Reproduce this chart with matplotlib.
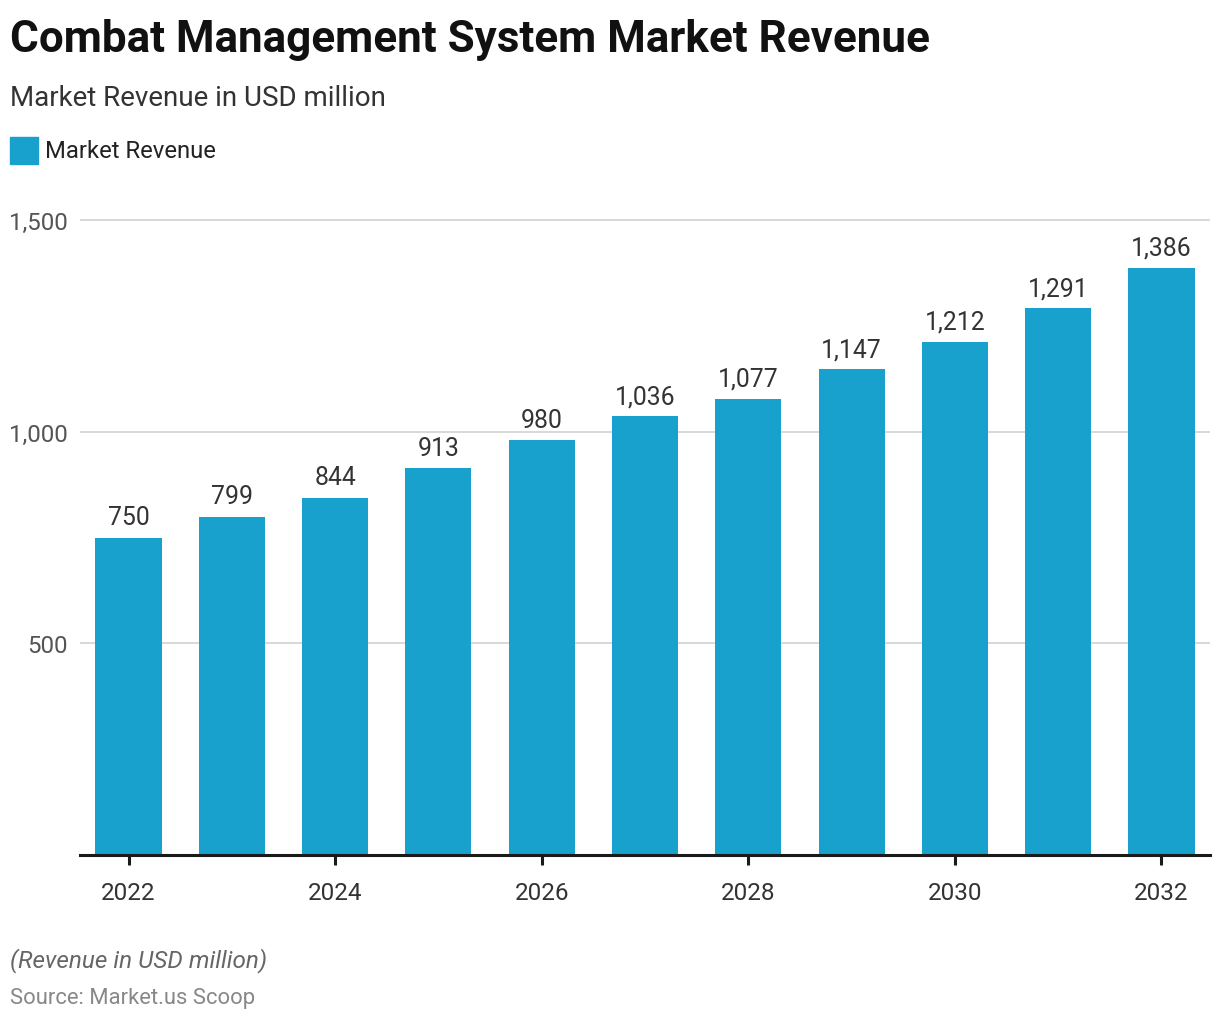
import matplotlib
matplotlib.use("Agg")
import matplotlib.pyplot as plt
from matplotlib.ticker import FuncFormatter, FixedLocator

years = [2022, 2023, 2024, 2025, 2026, 2027, 2028, 2029, 2030, 2031, 2032]
revenue = [750, 799, 844, 913, 980, 1036, 1077, 1147, 1212, 1291, 1386]
xticks = [2022, 2024, 2026, 2028, 2030, 2032]
yticks = [500, 1000, 1500]

title = "Combat Management System Market Revenue"
subtitle = "Market Revenue in USD million"
legend_label = "Market Revenue"
caption = "(Revenue in USD million)"
source = "Source: Market.us Scoop"

BAR = "#18a1cd"
W, H = 1220, 1020
plt.rcParams["font.family"] = ["Roboto", "DejaVu Sans"]

fig = plt.figure(figsize=(W / 100, H / 100), dpi=100)
fig.patch.set_facecolor("white")

def fy(py):
    return 1 - py / H

# axes
base_px = 856
left, right = 80 / W, 1210 / W
bottom = fy(base_px)
ymax = 1510
top_px = base_px - ymax * (base_px - 221) / 1500
ax = fig.add_axes([left, bottom, right - left, fy(top_px) - bottom])
ax.bar(years, revenue, width=0.64, color=BAR, zorder=3)
ax.set_xlim(2021.53, 2032.47)
ax.set_ylim(0, ymax)

for s in ["top", "right", "left"]:
    ax.spines[s].set_visible(False)
ax.spines["bottom"].set_color("#1a1a1a")
ax.spines["bottom"].set_linewidth(2.2)
ax.spines["bottom"].set_zorder(4)

ax.yaxis.set_major_locator(FixedLocator(yticks))
ax.yaxis.set_major_formatter(FuncFormatter(lambda v, p: f"{int(v):,}"))
ax.tick_params(axis="y", length=0, pad=8.5, labelsize=17.4, labelcolor="#555555")
ax.grid(axis="y", color="#d6d6d6", linewidth=1.3, zorder=0)

ax.xaxis.set_major_locator(FixedLocator(xticks))
ax.xaxis.set_major_formatter(FuncFormatter(lambda v, p: f"{int(v)}"))
ax.tick_params(axis="x", length=7, width=2.2, color="#1a1a1a", pad=11.5,
               labelsize=17.5, labelcolor="#333333")

for x, v in zip(years, revenue):
    ax.annotate(f"{v:,}", (x, v), xytext=(0, 6), textcoords="offset points",
                ha="center", va="bottom", fontsize=17.8, color="#333333")

# header texts
fig.text(10 / W, fy(52), title, fontsize=31.7, fontweight="bold", color="#111111",
         ha="left", va="baseline")
fig.text(10 / W, fy(106), subtitle, fontsize=20, color="#333333",
         ha="left", va="baseline")
fig.patches.append(plt.Rectangle((10 / W, fy(165)), 28 / W, 27 / H,
                                 transform=fig.transFigure, color=BAR))
fig.text(45 / W, fy(158), legend_label, fontsize=17.2, color="#222222",
         ha="left", va="baseline")

fig.text(10 / W, fy(967), caption, fontsize=17.5, style="italic", color="#666666",
         ha="left", va="baseline")
fig.text(10 / W, fy(1004), source, fontsize=15.8, color="#888888",
         ha="left", va="baseline")

fig.savefig("out.png", dpi=100, facecolor="white")
